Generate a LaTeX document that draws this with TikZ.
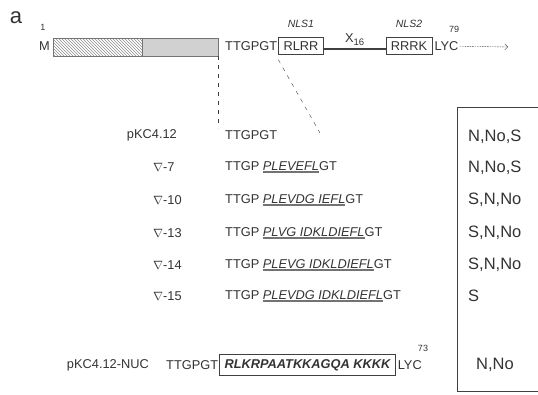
\documentclass[tikz,border=0pt]{standalone}
\usepackage{fontspec}
\setmainfont{Liberation Sans}
\usetikzlibrary{positioning,patterns,arrows.meta}
\newcommand{\delseq}[1]{\setbox0\hbox{\itshape #1}\rlap{\color{black!55}\rule[-2.6pt]{\wd0}{1.3pt}}\box0}
\tikzset{
  seq/.style={font=\fontsize{12.8}{14}\selectfont, inner sep=1pt},
  tag/.style={font=\fontsize{10.5}{12}\selectfont\itshape, inner sep=1pt},
  num/.style={font=\fontsize{9}{10}\selectfont, inner sep=1pt},
  nlsbox/.style={seq, draw, inner xsep=5pt, minimum height=17pt},
  loc/.style={font=\fontsize{16.5}{18}\selectfont, inner sep=1pt, anchor=west},
  guide/.style={dash pattern=on 4pt off 5pt},
}

\begin{document}
\begin{tikzpicture}[x=1pt,y=-1pt, text=black!80, draw=black!75]
  \useasboundingbox (0,0) rectangle (538,394);
  % panel label
  \node[font=\fontsize{22}{24}\selectfont] (panel) at (16,18) {a};
  % protein bar
  \node[num] (first) at (43,27) {1};
  \node[seq, anchor=east] (met) at (51,46) {M};
  \draw[draw=black!55, pattern=north west lines, pattern color=black!45] (53,38) rectangle (142,56);
  \draw[draw=black!55, fill=black!18] (142,38) rectangle (218,56);
  \coordinate (barend) at (218,56);
  \node[seq, anchor=west] (hinge) at (224,46) {TTGPGT};
  \node[nlsbox, right=0pt of hinge] (nls1) {RLRR};
  \node[tag, above=8pt of nls1] (nls1lbl) {NLS1};
  \node[nlsbox] (nls2) at (409,46) {RRRK};
  \node[tag, above=8pt of nls2] (nls2lbl) {NLS2};
  \draw[very thick] ([yshift=-3pt]nls1.east) -- node[seq, above=2pt] {X\raisebox{-3pt}{\fontsize{9.5}{10}\selectfont 16}} ([yshift=-3pt]nls2.west);
  \node[seq, right=1pt of nls2] (tail) {LYC};
  \node[num] (last) at (454,29) {79};
  \coordinate (cont) at (508,47);
  \draw[dash pattern=on 1.5pt off 1pt, -{Straight Barb[length=3pt,width=6pt]}] (tail) -- (cont);
  % zoom guides
  \coordinate (gapend) at (218,128);
  \coordinate (diagend) at (320,133);
  \draw[guide] (barend) -- (gapend);
  \draw[guide] ([yshift=-5pt]nls1.south west) -- (diagend);
  % deletion series
  \node[seq, anchor=east] (wt) at (178,135) {pKC4.12};
  \node[seq, anchor=west] (wtseq) at (224,135) {TTGPGT};
  \foreach \y/\n/\del in {167/7/PLEVEFL, 200/10/PLEVDG IEFL, 233/13/PLVG IDKLDIEFL,
                          265/14/PLEVG IDKLDIEFL, 296/15/PLEVDG IDKLDIEFL} {
    \node[seq, anchor=west] (d\n) at (152,\y) {$\nabla$-\n};
    \node[seq, anchor=west] (s\n) at (224,\y) {TTGP \delseq{\del}GT};
  }
  % NLS swap
  \node[seq, anchor=east] (nuc) at (150,365) {pKC4.12-NUC};
  \node[seq, anchor=west] (nucseq) at (165,365) {TTGPGT};
  \node[nlsbox, right=0pt of nucseq, font=\fontsize{12.8}{14}\selectfont\bfseries\itshape,
        minimum height=21pt] (nucbox) {RLKRPAATKKAGQA KKKK};
  \node[seq, right=1pt of nucbox] (nuctail) {LYC};
  \node[num] (nuclast) at (423,348) {73};
  % localisation
  \draw (538,107) -- (457,107) -- (457,391) -- (538,391);
  \node[loc] (l0) at (467,137) {N,No,S};
  \node[loc] (l7) at (467,168) {N,No,S};
  \node[loc] (l10) at (467,200) {S,N,No};
  \node[loc] (l13) at (467,233) {S,N,No};
  \node[loc] (l14) at (467,265) {S,N,No};
  \node[loc] (l15) at (467,296) {S};
  \node[loc] (lnuc) at (475,365) {N,No};
\end{tikzpicture}
\end{document}
